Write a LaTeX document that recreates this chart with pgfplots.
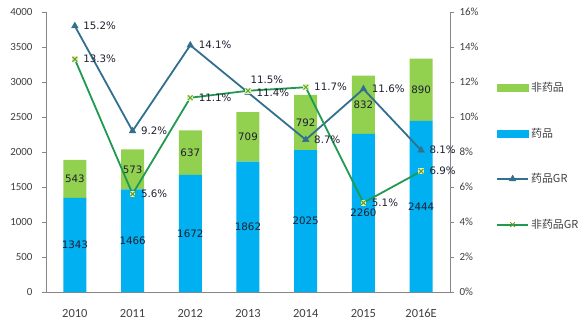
\documentclass[border=0pt]{standalone}
\usepackage{pgfplots}
\pgfplotsset{compat=1.18}
\usepackage{pgfplotstable}
\usepackage{fontspec}
\setmainfont{Carlito}
\newfontfamily\lab{DejaVu Sans}
\newfontfamily\cjk{Noto Sans CJK SC}
\definecolor{drug}{HTML}{00B0F0}
\definecolor{nondrug}{HTML}{92D050}
\definecolor{drugline}{HTML}{31708F}
\definecolor{ndline}{HTML}{1F9A50}
\definecolor{ndmark}{HTML}{5E9E2A}
\definecolor{ndfill}{HTML}{E2F2B4}
\definecolor{axgray}{HTML}{868686}
\definecolor{tick}{HTML}{404040}
\definecolor{txt}{HTML}{1E1E30}

\pgfplotstableread{
x drug nondrug
0 1343 543
1 1466 573
2 1672 637
3 1862 709
4 2025 792
5 2260 832
6 2444 890
}\bars

\pgfplotstableread{
x dgr ndgr
0 15.2 13.3
1 9.2 5.6
2 14.1 11.1
3 11.4 11.5
4 8.7 11.7
5 11.6 5.1
6 8.1 6.9
}\growth

\begin{document}
\begin{tikzpicture}
\useasboundingbox (-46bp,-35bp) rectangle (534bp,292bp);
% bars
\begin{axis}[
  at={(0,0)}, anchor=south west,
  scale only axis, width=404bp, height=280bp,
  xmin=-0.5, xmax=6.5, ymin=0, ymax=4000,
  ybar stacked, bar width=23bp,
  axis x line*=bottom, axis y line*=left,
  axis line style={axgray, line width=0.6bp},
  tick style={axgray, line width=0.6bp},
  tick align=outside, major tick length=4bp,
  xtick={0,...,6}, xticklabels={2010,2011,2012,2013,2014,2015,2016E},
  x tick style={draw=none},
  extra x ticks={-0.5,0.5,1.5,2.5,3.5,4.5,5.5,6.5},
  extra x tick labels={},
  extra x tick style={tick style={draw=axgray, line width=0.6bp}, major tick length=5bp},
  xticklabel style={font=\fontsize{12.5}{14}\selectfont, text=tick, yshift=-10bp},
  ytick={0,500,...,4000},
  yticklabel style={font=\fontsize{11}{13}\selectfont, text=tick, xshift=-6bp},
  /pgf/number format/assume math mode=true,
  /pgf/number format/1000 sep={},
]
\addplot[fill=drug, draw=none] table[x=x, y=drug]{\bars};
\addplot[fill=nondrug, draw=none] table[x=x, y=nondrug]{\bars};
\end{axis}
% bar labels
\begin{axis}[
  at={(0,0)}, anchor=south west,
  scale only axis, width=404bp, height=280bp,
  xmin=-0.5, xmax=6.5, ymin=0, ymax=4000,
  hide axis, clip=false,
  nodes near coords, point meta=explicit symbolic,
  every node near coord/.append style={anchor=center, font=\lab\fontsize{10.3}{12}\selectfont, text=txt},
]
\addplot[only marks, mark=none] table[x=x, y expr=\thisrow{drug}/2, meta=drug]{\bars};
\addplot[only marks, mark=none] table[x=x, y expr=\thisrow{drug}+\thisrow{nondrug}/2, meta=nondrug]{\bars};
\end{axis}
% growth lines
\begin{axis}[
  at={(0,0)}, anchor=south west,
  scale only axis, width=404bp, height=280bp,
  xmin=-0.5, xmax=6.5, ymin=0, ymax=16,
  axis x line=none, axis y line*=right,
  axis line style={axgray, line width=0.6bp},
  tick style={axgray, line width=0.6bp},
  tick align=outside, major tick length=4bp,
  ytick={0,2,...,16},
  yticklabel={\pgfmathprintnumber{\tick}\%},
  yticklabel style={font=\fontsize{11}{13}\selectfont, text=tick, xshift=2bp},
  /pgf/number format/assume math mode=true,
  clip=false,
  legend style={at={(1.114,0.757)}, anchor=north west, draw=none, fill=none,
    font=\cjk\fontsize{11}{13}\selectfont, text=tick, inner sep=0pt, row sep=31bp,
    cells={anchor=west}},
  legend image code/.code={\draw[mark repeat=2,mark phase=2,#1] plot coordinates {(0bp,0bp) (15.5bp,0bp) (31bp,0bp)};},
]
\addlegendimage{legend image code/.code={\fill[nondrug] (0bp,-3.5bp) rectangle (31bp,3.5bp);}}
\addlegendentry{非药品}
\addlegendimage{legend image code/.code={\fill[drug] (0bp,-3.5bp) rectangle (31bp,3.5bp);}}
\addlegendentry{药品}
\addplot[drugline, line width=1.8bp, mark=triangle*, mark size=3.8bp, mark options={fill=drugline, line width=0.5bp}] table[x=x, y=dgr]{\growth};
\addlegendentry{药品GR}
\addplot[ndline, line width=1.8bp, mark=x, mark size=3.3bp, mark options={draw=ndmark, line width=1bp}] table[x=x, y=ndgr]{\growth};
\addlegendentry{非药品GR}
\addplot[forget plot, ndfill, only marks, mark=square*, mark size=2.4bp, mark options={fill=ndfill, draw=ndfill, line width=0pt}] table[x=x, y=ndgr]{\growth};
\addplot[forget plot, ndmark, only marks, mark=x, mark size=3.3bp, mark options={draw=ndmark, line width=1bp}] table[x=x, y=ndgr]{\growth};
% labels
\addplot[forget plot, only marks, mark=none, nodes near coords={\pgfplotspointmeta\%}, point meta=explicit symbolic,
  every node near coord/.append style={anchor=west, xshift=5bp, font=\lab\fontsize{10.3}{12}\selectfont, text=txt}]
  table[x=x, y=dgr, meta=dgr]{\growth};
\addplot[forget plot, only marks, mark=none, nodes near coords={\pgfplotspointmeta\%}, point meta=explicit symbolic,
  skip coords between index={3}{4},
  every node near coord/.append style={anchor=west, xshift=5bp, font=\lab\fontsize{10.3}{12}\selectfont, text=txt}]
  table[x=x, y=ndgr, meta=ndgr]{\growth};
\addplot[forget plot, only marks, mark=none, nodes near coords={\pgfplotspointmeta\%}, point meta=explicit symbolic,
  skip coords between index={0}{3}, skip coords between index={4}{7},
  every node near coord/.append style={anchor=south west, xshift=-1bp, yshift=4bp, font=\lab\fontsize{10.3}{12}\selectfont, text=txt}]
  table[x=x, y=ndgr, meta=ndgr]{\growth};
\end{axis}
\end{tikzpicture}
\end{document}
